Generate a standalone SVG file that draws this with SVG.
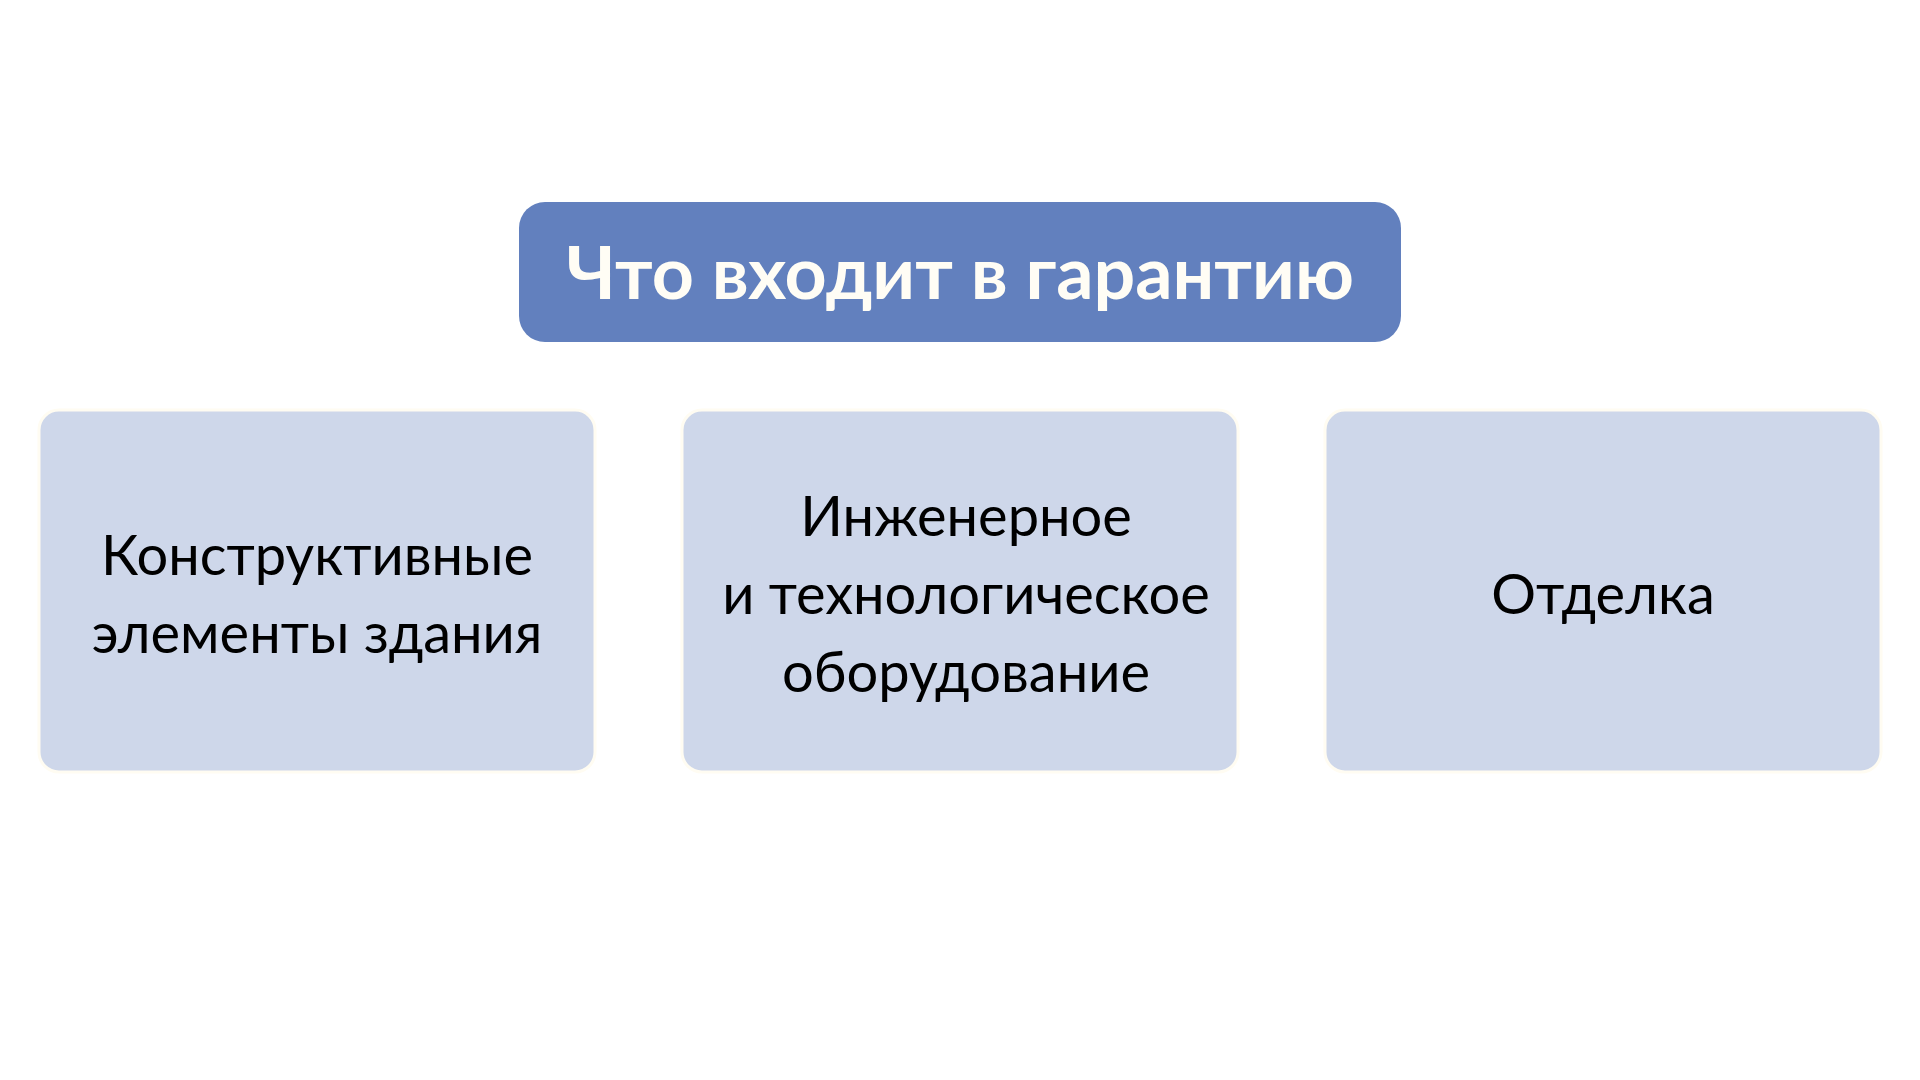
<svg xmlns="http://www.w3.org/2000/svg" width="1920" height="1080" viewBox="0 0 1920 1080">
<style>
.box{fill:#CED7EA;stroke:#FFFCF2;stroke-width:3}
.title{fill:#6280BE}
.t{font-family:Lato,"Liberation Sans",sans-serif;text-anchor:middle}
.tt{font-size:73.5px;font-weight:bold;fill:#FFFDF5}
.bt{font-size:56px;fill:#000000}
</style>
<rect width="1920" height="1080" fill="#FFFFFF"/>
<g id="connectors"></g>
<g id="node-title">
<rect class="title" x="519" y="202" width="882" height="140" rx="26" ry="26"/>
<text class="t tt" x="960" y="299">Что входит в гарантию</text>
</g>
<g id="node-structural">
<rect class="box" x="39" y="410" width="556" height="362" rx="20" ry="20"/>
<text class="t bt" x="317" y="575">Конструктивные</text>
<text class="t bt" x="317" y="653">элементы здания</text>
</g>
<g id="node-engineering">
<rect class="box" x="682" y="410" width="556" height="362" rx="20" ry="20"/>
<text class="t bt" x="966" y="536">Инженерное</text>
<text class="t bt" x="966" y="614">и технологическое</text>
<text class="t bt" x="966" y="692">оборудование</text>
</g>
<g id="node-finishing">
<rect class="box" x="1325" y="410" width="556" height="362" rx="20" ry="20"/>
<text class="t bt" x="1603" y="614">Отделка</text>
</g>
</svg>
